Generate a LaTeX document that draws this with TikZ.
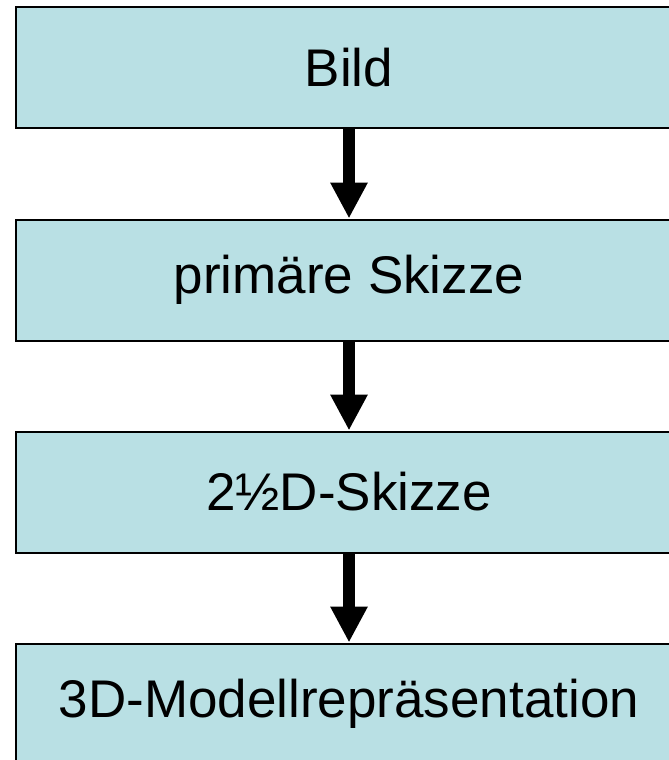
\documentclass[tikz,border=0pt]{standalone}
\usepackage{fontspec}
\setmainfont{Liberation Sans}
\usepackage{xcolor}
\usetikzlibrary{arrows.meta}
\definecolor{boxblue}{RGB}{185,224,228}
\tikzset{
  stage/.style={draw=black,line width=2pt,fill=boxblue,minimum width=666pt,minimum height=121pt,
    inner sep=0pt,font=\fontsize{53}{60}\selectfont},
  flow/.style={line width=12pt,-{Triangle[length=36pt,width=35pt]}}
}

\begin{document}
\begin{tikzpicture}[x=1pt,y=-1pt]
\useasboundingbox (0,0) rectangle (669,760);
\node[stage] (bild) at (349,67.5) {Bild};
\node[stage] (primaer) at (349,280) {primäre Skizze};
\node[stage] (zweieinhalb) at (349,492) {2½D-Skizze};
\node[stage] (modell) at (349,704) {3D-Modellrepräsentation};
\draw[flow] (bild.south) -- (primaer.north);
\draw[flow] (primaer.south) -- (zweieinhalb.north);
\draw[flow] (zweieinhalb.south) -- (modell.north);
\end{tikzpicture}
\end{document}
